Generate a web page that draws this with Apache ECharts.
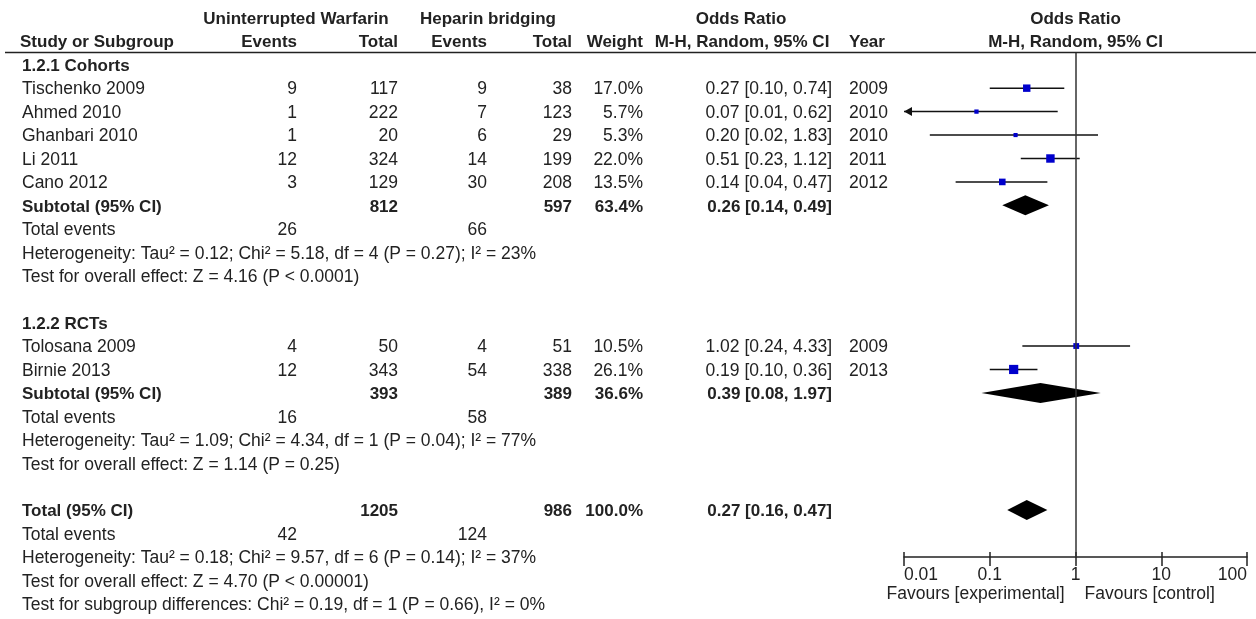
<!DOCTYPE html>
<html>
<head>
<meta charset="utf-8">
<script src="https://cdn.jsdelivr.net/npm/echarts@6/dist/echarts.min.js"></script>
<style>
  html, body { margin: 0; background: #fff; }
  #forest { width: 1256px; height: 619px; }
</style>
</head>
<body>
<div id="forest"></div>
<script>
// ---- data ----
var studies = ['Tischenko 2009', 'Ahmed 2010', 'Ghanbari 2010', 'Li 2011', 'Cano 2012', 'Tolosana 2009', 'Birnie 2013'];
var studyGroup = [0, 0, 0, 0, 0, 1, 1];
var warfEvents = [9, 1, 1, 12, 3, 4, 12];
var warfTotal = [117, 222, 20, 324, 129, 50, 343];
var hepEvents = [9, 7, 6, 14, 30, 4, 54];
var hepTotal = [38, 123, 29, 199, 208, 51, 338];
var weights = [17.0, 5.7, 5.3, 22.0, 13.5, 10.5, 26.1];
var oddsRatio = [0.27, 0.07, 0.20, 0.51, 0.14, 1.02, 0.19];
var ciLow = [0.10, 0.01, 0.02, 0.23, 0.04, 0.24, 0.10];
var ciHigh = [0.74, 0.62, 1.83, 1.12, 0.47, 4.33, 0.36];
var years = [2009, 2010, 2010, 2011, 2012, 2009, 2013];

var groupNames = ['1.2.1 Cohorts', '1.2.2 RCTs'];
var groupWarfEvents = [26, 16];
var groupWarfTotal = [812, 393];
var groupHepEvents = [66, 58];
var groupHepTotal = [597, 389];
var groupWeight = [63.4, 36.6];
var groupOR = [0.26, 0.39];
var groupLow = [0.14, 0.08];
var groupHigh = [0.49, 1.97];
var groupHet = [
  'Heterogeneity: Tau\u00b2 = 0.12; Chi\u00b2 = 5.18, df = 4 (P = 0.27); I\u00b2 = 23%',
  'Heterogeneity: Tau\u00b2 = 1.09; Chi\u00b2 = 4.34, df = 1 (P = 0.04); I\u00b2 = 77%'
];
var groupEffect = [
  'Test for overall effect: Z = 4.16 (P < 0.0001)',
  'Test for overall effect: Z = 1.14 (P = 0.25)'
];

var totalCounts = [42, 1205, 124, 986]; // warf events, warf total, hep events, hep total
var totalWeight = 100.0;
var totalOR = [0.27, 0.16, 0.47]; // estimate, low, high
var totalNotes = [
  'Heterogeneity: Tau\u00b2 = 0.18; Chi\u00b2 = 9.57, df = 6 (P = 0.14); I\u00b2 = 37%',
  'Test for overall effect: Z = 4.70 (P < 0.00001)',
  'Test for subgroup differences: Chi\u00b2 = 0.19, df = 1 (P = 0.66), I\u00b2 = 0%'
];

var axisTicks = [0.01, 0.1, 1, 10, 100];
var favourLabels = ['Favours [experimental]', 'Favours [control]'];

// ---- layout ----
var FONT = '"Liberation Sans", Arial, sans-serif';
var INK = '#222';
var SIZE = 17.5;      // plain text
var SIZE_BOLD = 17;   // headers / pooled rows
var COL = { study: 22, wEvents: 297, wTotal: 398, hEvents: 487, hTotal: 572, weight: 643, or: 832, year: 849 };
var X_MIN = axisTicks[0], X_MAX = axisTicks[axisTicks.length - 1];

function ciText(est, lo, hi) {
  return est.toFixed(2) + ' [' + lo.toFixed(2) + ', ' + hi.toFixed(2) + ']';
}

// assign a row to every line of the table
var studyRow = [], groupRow = [], lines = [];
var row = 0;
groupNames.forEach(function (name, g) {
  lines.push({ row: row++, kind: 'group', g: g });
  studies.forEach(function (s, i) {
    if (studyGroup[i] === g) {
      studyRow[i] = row;
      lines.push({ row: row++, kind: 'study', i: i });
    }
  });
  groupRow[g] = row;
  lines.push({ row: row++, kind: 'subtotal', g: g });
  lines.push({ row: row++, kind: 'events', g: g });
  lines.push({ row: row++, kind: 'note', text: groupHet[g] });
  lines.push({ row: row++, kind: 'note', text: groupEffect[g] });
  row++;
});
var totalRow = row;
lines.push({ row: row++, kind: 'total' });
lines.push({ row: row++, kind: 'totalEvents' });
totalNotes.forEach(function (t) { lines.push({ row: row++, kind: 'note', text: t }); });

var ciData = studies.map(function (s, i) { return [ciLow[i], ciHigh[i], studyRow[i]]; });
var squareData = studies.map(function (s, i) { return [oddsRatio[i], studyRow[i], weights[i]]; });
var diamondData = groupNames.map(function (n, g) { return [groupLow[g], groupOR[g], groupHigh[g], groupRow[g]]; });
diamondData.push([totalOR[1], totalOR[0], totalOR[2], totalRow]);

var chart = echarts.init(document.getElementById('forest'));

chart.setOption({
  animation: false,
  backgroundColor: '#fff',
  grid: { left: 904, right: 9, top: 53, bottom: 62 },
  xAxis: [{
    type: 'log',
    logBase: 10,
    min: X_MIN,
    max: X_MAX,
    axisLine: { onZero: false, lineStyle: { color: INK, width: 1.5 } },
    axisTick: { length: 9, lineStyle: { color: INK, width: 1.5 } },
    splitLine: { show: false },
    axisLabel: {
      margin: 9,
      color: INK,
      fontSize: SIZE,
      fontFamily: FONT,
      alignMinLabel: 'left',
      alignMaxLabel: 'right',
      formatter: function (v) { return String(+v.toFixed(2)); }
    }
  }, {
    type: 'log',
    logBase: 10,
    min: X_MIN,
    max: X_MAX,
    position: 'bottom',
    axisLine: { show: false, onZero: false },
    axisTick: { inside: true, length: 5, lineStyle: { color: INK, width: 1.5 } },
    axisLabel: { show: false },
    splitLine: { show: false }
  }],
  yAxis: { type: 'value', inverse: true, min: -0.5, max: 21, show: false },
  series: [
    {
      type: 'custom',
      name: 'ci',
      data: ciData,
      encode: { x: [0, 1], y: 2 },
      renderItem: function (params, api) {
        var lo = api.value(0), hi = api.value(1), r = api.value(2);
        var clipped = lo <= X_MIN;
        var p0 = api.coord([Math.max(lo, X_MIN), r]);
        var p1 = api.coord([Math.min(hi, X_MAX), r]);
        var kids = [{
          type: 'line',
          shape: { x1: p0[0], y1: p0[1], x2: p1[0], y2: p1[1] },
          style: { stroke: '#111', lineWidth: 1.5 }
        }];
        if (clipped) {
          kids.push({
            type: 'polygon',
            shape: { points: [[p0[0], p0[1]], [p0[0] + 8, p0[1] - 4.5], [p0[0] + 8, p0[1] + 4.5]] },
            style: { fill: '#111' }
          });
        }
        return { type: 'group', children: kids };
      },
      z: 2
    },
    {
      type: 'scatter',
      name: 'or',
      data: squareData,
      symbol: 'rect',
      symbolSize: function (v) { return 1.8 * Math.sqrt(v[2]); },
      itemStyle: { color: '#0000cc', opacity: 1 },
      z: 3,
      markLine: {
        silent: true,
        symbol: ['none', 'none'],
        label: { show: false },
        lineStyle: { color: '#333', width: 1.5, type: 'solid' },
        data: [{ xAxis: 1 }]
      }
    },
    {
      type: 'custom',
      name: 'pooled',
      data: diamondData,
      encode: { x: [0, 1, 2], y: 3 },
      renderItem: function (params, api) {
        var r = api.value(3);
        var a = api.coord([api.value(0), r]);
        var c = api.coord([api.value(1), r]);
        var b = api.coord([api.value(2), r]);
        return {
          type: 'polygon',
          shape: { points: [a, [c[0], c[1] - 10], b, [c[0], c[1] + 10]] },
          style: { fill: '#000' }
        };
      },
      z: 3
    }
  ]
});

// ---- table text, placed on the same row scale ----
function rowY(r) { return chart.convertToPixel({ yAxisIndex: 0 }, r) + 1.5; }
var xOne = chart.convertToPixel({ xAxisIndex: 0 }, 1);

var texts = [];
function txt(str, x, r, align, bold) {
  texts.push({
    type: 'text',
    silent: true,
    x: x,
    y: rowY(r),
    style: {
      text: String(str),
      align: align,
      verticalAlign: 'middle',
      fontSize: bold ? SIZE_BOLD : SIZE,
      fontWeight: bold ? 'bold' : 'normal',
      fontFamily: FONT,
      fill: INK
    }
  });
}

// headers
txt('Uninterrupted Warfarin', 296, -2, 'center', true);
txt('Heparin bridging', 488, -2, 'center', true);
txt('Odds Ratio', 741, -2, 'center', true);
txt('Odds Ratio', xOne, -2, 'center', true);
txt('Study or Subgroup', 20, -1, 'left', true);
txt('Events', COL.wEvents, -1, 'right', true);
txt('Total', COL.wTotal, -1, 'right', true);
txt('Events', COL.hEvents, -1, 'right', true);
txt('Total', COL.hTotal, -1, 'right', true);
txt('Weight', COL.weight, -1, 'right', true);
txt('M-H, Random, 95% CI', 742, -1, 'center', true);
txt('Year', COL.year, -1, 'left', true);
txt('M-H, Random, 95% CI', xOne, -1, 'center', true);

lines.forEach(function (ln) {
  var r = ln.row, i = ln.i, g = ln.g;
  if (ln.kind === 'group') {
    txt(groupNames[g], COL.study, r, 'left', true);
  } else if (ln.kind === 'study') {
    txt(studies[i], COL.study, r, 'left');
    txt(warfEvents[i], COL.wEvents, r, 'right');
    txt(warfTotal[i], COL.wTotal, r, 'right');
    txt(hepEvents[i], COL.hEvents, r, 'right');
    txt(hepTotal[i], COL.hTotal, r, 'right');
    txt(weights[i].toFixed(1) + '%', COL.weight, r, 'right');
    txt(ciText(oddsRatio[i], ciLow[i], ciHigh[i]), COL.or, r, 'right');
    txt(years[i], COL.year, r, 'left');
  } else if (ln.kind === 'subtotal') {
    txt('Subtotal (95% CI)', COL.study, r, 'left', true);
    txt(groupWarfTotal[g], COL.wTotal, r, 'right', true);
    txt(groupHepTotal[g], COL.hTotal, r, 'right', true);
    txt(groupWeight[g].toFixed(1) + '%', COL.weight, r, 'right', true);
    txt(ciText(groupOR[g], groupLow[g], groupHigh[g]), COL.or, r, 'right', true);
  } else if (ln.kind === 'events') {
    txt('Total events', COL.study, r, 'left');
    txt(groupWarfEvents[g], COL.wEvents, r, 'right');
    txt(groupHepEvents[g], COL.hEvents, r, 'right');
  } else if (ln.kind === 'total') {
    txt('Total (95% CI)', COL.study, r, 'left', true);
    txt(totalCounts[1], COL.wTotal, r, 'right', true);
    txt(totalCounts[3], COL.hTotal, r, 'right', true);
    txt(totalWeight.toFixed(1) + '%', COL.weight, r, 'right', true);
    txt(ciText(totalOR[0], totalOR[1], totalOR[2]), COL.or, r, 'right', true);
  } else if (ln.kind === 'totalEvents') {
    txt('Total events', COL.study, r, 'left');
    txt(totalCounts[0], COL.wEvents, r, 'right');
    txt(totalCounts[2], COL.hEvents, r, 'right');
  } else {
    txt(ln.text, COL.study, r, 'left');
  }
});

// favours captions under the axis
var axisY = chart.convertToPixel({ yAxisIndex: 0 }, 21);
texts.push({
  type: 'text', silent: true, x: xOne - 11, y: axisY + 37,
  style: { text: favourLabels[0], align: 'right', verticalAlign: 'middle', fontSize: SIZE, fontFamily: FONT, fill: INK }
});
texts.push({
  type: 'text', silent: true, x: xOne + 9, y: axisY + 37,
  style: { text: favourLabels[1], align: 'left', verticalAlign: 'middle', fontSize: SIZE, fontFamily: FONT, fill: INK }
});

// rule under the column headers
var headY = Math.round(chart.convertToPixel({ yAxisIndex: 0 }, -0.5)) - 0.5;
texts.push({
  type: 'line', silent: true,
  shape: { x1: 5, y1: headY, x2: 1256, y2: headY },
  style: { stroke: INK, lineWidth: 1.5 }
});

chart.setOption({ graphic: texts });
</script>
</body>
</html>
